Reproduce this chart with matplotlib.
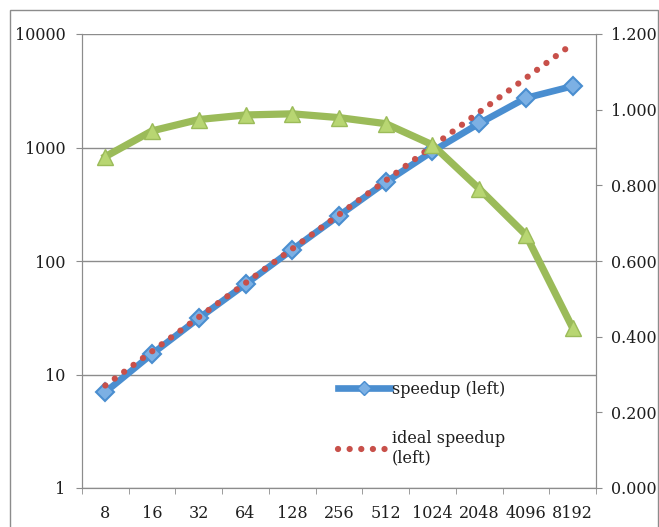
import matplotlib
matplotlib.use("Agg")
import matplotlib.pyplot as plt
from matplotlib.patches import Rectangle
from matplotlib.lines import Line2D
from matplotlib.ticker import FixedLocator, NullFormatter

plt.rcParams["font.family"] = ["DejaVu Serif"]
plt.rcParams["font.size"] = 11.5

# data
cores = [8, 16, 32, 64, 128, 256, 512, 1024, 2048, 4096, 8192]
labels = [str(c) for c in cores]
speedup = [7.0, 15.2, 31.3, 62.5, 126, 251, 495, 925, 1630, 2730, 3470]
ideal = [8, 16, 32, 64, 128, 256, 512, 1024, 2048, 4096, 8192]
efficiency = [0.876, 0.944, 0.974, 0.986, 0.989, 0.979, 0.963, 0.907, 0.791, 0.669, 0.423]

BLUE = "#4A8ED0"
BLUE_LIGHT = "#7CB0E4"
RED = "#C8504A"
GREEN = "#9BBB59"
GREEN_LIGHT = "#B8D672"
GRAY = "#8C8C8C"
TEXT = "#1E1E1E"
DOTS = (0, (0.01, 1.85))

W, H = 659, 527
fig = plt.figure(figsize=(W / 100, H / 100), dpi=100)
fig.patches.append(Rectangle((10 / W, -0.2), 648 / W, 1.2 - 10 / H,
                             transform=fig.transFigure, fill=False,
                             edgecolor=GRAY, linewidth=1.0))

ax = fig.add_axes([82 / W, 1 - 488 / H, 514 / W, 454 / H])
x = list(range(len(cores)))

ax.plot(x, speedup, color=BLUE, lw=4.8, marker="D", ms=9,
        mfc=BLUE_LIGHT, mec=BLUE, mew=1.5, zorder=3)
ax.plot(x, ideal, color=RED, lw=4.5, linestyle=DOTS,
        dash_capstyle="round", zorder=4)

ax.set_yscale("log")
ax.set_ylim(1, 10000)
ax.yaxis.set_major_locator(FixedLocator([1, 10, 100, 1000, 10000]))
ax.set_yticklabels(["1", "10", "100", "1000", "10000"])
ax.yaxis.set_minor_formatter(NullFormatter())
ax.tick_params(axis="y", which="minor", length=0)
ax.tick_params(axis="y", which="major", length=4, color=GRAY, pad=8,
               labelcolor=TEXT)

ax.set_xlim(-0.5, len(cores) - 0.5)
ax.set_xticks(x)
ax.set_xticklabels(labels)
ax.set_xticks([i - 0.5 for i in range(len(cores) + 1)], minor=True)
ax.tick_params(axis="x", which="major", length=0, pad=12, labelcolor=TEXT)
ax.tick_params(axis="x", which="minor", length=4, color=GRAY)

ax.grid(True, axis="y", which="major", color=GRAY, lw=1.0)
ax.set_axisbelow(True)
for side in ["left", "bottom", "right"]:
    ax.spines[side].set_color(GRAY)
ax.spines["top"].set_visible(False)

ax2 = ax.twinx()
ax2.plot(x, efficiency, color=GREEN, lw=5.2, marker="^", ms=11,
         mfc=GREEN_LIGHT, mec=GREEN, mew=1.0, solid_joinstyle="round",
         zorder=5)
ax2.set_ylim(0, 1.2)
ax2.set_yticks([0.0, 0.2, 0.4, 0.6, 0.8, 1.0, 1.2])
ax2.set_yticklabels([f"{v:.3f}" for v in [0.0, 0.2, 0.4, 0.6, 0.8, 1.0, 1.2]])
ax2.tick_params(axis="y", length=4, color=GRAY, pad=7, labelcolor=TEXT)
for side in ["left", "bottom", "right"]:
    ax2.spines[side].set_color(GRAY)
ax2.spines["top"].set_visible(False)

handles = [
    Line2D([], [], color=BLUE, lw=4.8, marker="D", ms=7, mfc=BLUE_LIGHT,
           mec=BLUE),
    Line2D([], [], color=RED, lw=4.5, linestyle=DOTS,
           dash_capstyle="round"),
]
ax2.legend(handles, ["speedup (left)", "ideal speedup\n(left)"],
           loc="upper left", bbox_to_anchor=(0.485, 0.25), frameon=False,
           handlelength=3.3, handletextpad=0.1, labelspacing=2.0,
           borderaxespad=0, numpoints=1, labelcolor=TEXT)

fig.savefig("out.png", dpi=100)
